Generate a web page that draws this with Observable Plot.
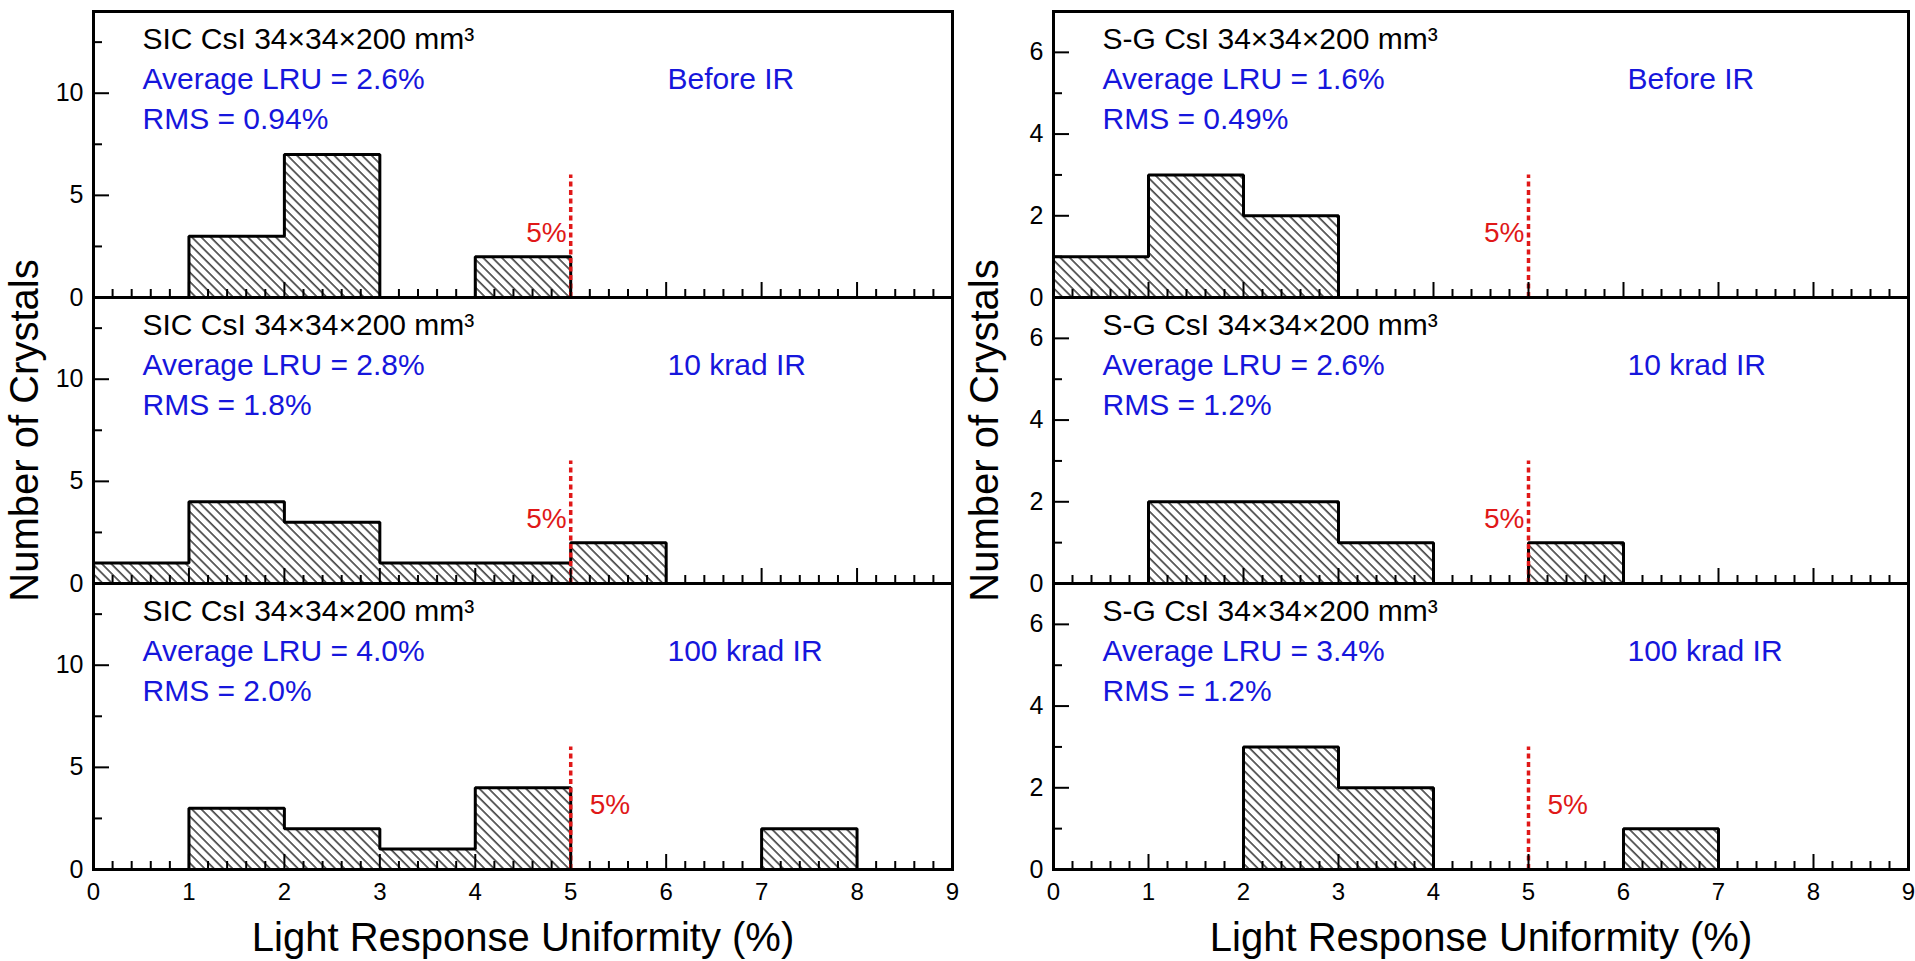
<!DOCTYPE html>
<html>
<head>
<meta charset="utf-8">
<script src="https://cdn.jsdelivr.net/npm/d3@7"></script>
<script src="https://cdn.jsdelivr.net/npm/@observablehq/plot@0.6"></script>
<style>
  body { margin: 0; background: #fff; }
  #chart { position: relative; width: 1915px; height: 961px; overflow: hidden; background: #fff; }
  #chart svg.panel { position: absolute; overflow: visible; background: transparent; }
</style>
</head>
<body>
<svg width="0" height="0" style="position:absolute">
  <defs>
    <pattern id="hatch" patternUnits="userSpaceOnUse" width="6.6" height="20" patternTransform="rotate(-45)">
      <line x1="1" y1="-2" x2="1" y2="22" stroke="#111" stroke-width="1.3"/>
    </pattern>
  </defs>
</svg>
<div id="chart"></div>
<script>
// ---------- data ----------
const binEdges = [0, 1, 2, 3, 4, 5, 6, 7, 8, 9];

const sicBeforeIR = [0, 3, 7, 0, 2, 0, 0, 0, 0];
const sic10krad   = [1, 4, 3, 1, 1, 2, 0, 0, 0];
const sic100krad  = [0, 3, 2, 1, 4, 0, 0, 2, 0];

const sgBeforeIR  = [1, 3, 2, 0, 0, 0, 0, 0, 0];
const sg10krad    = [0, 2, 2, 1, 0, 1, 0, 0, 0];
const sg100krad   = [0, 0, 3, 2, 0, 0, 1, 0, 0];

const conditions = ["Before IR", "10 krad IR", "100 krad IR"];
const sicHeader = "SIC CsI 34×34×200 mm³";
const sgHeader  = "S-G CsI 34×34×200 mm³";
const sicAvgLRU = ["2.6%", "2.8%", "4.0%"];
const sicRMS    = ["0.94%", "1.8%", "2.0%"];
const sgAvgLRU  = ["1.6%", "2.6%", "3.4%"];
const sgRMS     = ["0.49%", "1.2%", "1.2%"];

const limitValue = 5;
const limitLabel = "5%";
const sicLimitTop = 6;
const sgLimitTop = 3;

const xDomain = [0, 9];
const xMajorTicks = [0, 1, 2, 3, 4, 5, 6, 7, 8, 9];
const xMinorTicks = d3.range(0, 9.0001, 0.2).map(v => +v.toFixed(1)).filter(v => !Number.isInteger(v));

const sicYDomain = [0, 14];
const sicYMajor = [0, 5, 10];
const sicYMinor = [2.5, 7.5, 12.5];
const sgYDomain = [0, 7];
const sgYMajor = [0, 2, 4, 6];
const sgYMinor = [1, 3, 5];

const xTitle = "Light Response Uniformity (%)";
const yTitle = "Number of Crystals";

// ---------- styling ----------
const FONT = "Liberation Sans, Arial, Helvetica, sans-serif";
const BLUE = "#1616dc";
const RED = "#e01818";

const columns = [
  {left: 0,   width: 960, marginRight: 8, header: sicHeader, avg: sicAvgLRU, rms: sicRMS,
   series: [sicBeforeIR, sic10krad, sic100krad], yDomain: sicYDomain, yMajor: sicYMajor, yMinor: sicYMinor,
   limitTop: sicLimitTop, labelSide: ["left", "left", "right"]},
  {left: 960, width: 955, marginRight: 7, header: sgHeader, avg: sgAvgLRU, rms: sgRMS,
   series: [sgBeforeIR, sg10krad, sg100krad], yDomain: sgYDomain, yMajor: sgYMajor, yMinor: sgYMinor,
   limitTop: sgLimitTop, labelSide: ["left", "left", "right"]}
];
const rowTops = [11, 297, 583];
const panelH = 286;

function outlineOf(bins) {
  const pts = [];
  let run = -1, open = false;
  bins.forEach((b, i) => {
    if (b.count > 0) {
      if (!open) { run++; pts.push({x: b.lo, y: 0, run}); open = true; }
      pts.push({x: b.lo, y: b.count, run}, {x: b.hi, y: b.count, run});
    } else if (open) {
      pts.push({x: bins[i - 1].hi, y: 0, run});
      open = false;
    }
  });
  if (open) pts.push({x: bins[bins.length - 1].hi, y: 0, run});
  return pts;
}

const chart = document.getElementById("chart");

columns.forEach((col, c) => {
  col.series.forEach((counts, r) => {
    const bins = counts.map((n, i) => ({lo: binEdges[i], hi: binEdges[i + 1], count: n}));
    const bottom = r === 2;
    const mb = bottom ? 92 : 11;
    const side = col.labelSide[r];
    const marks = [
      Plot.rectY(bins.filter(b => b.count > 0), {x1: "lo", x2: "hi", y: "count", fill: "url(#hatch)"}),
      Plot.line(outlineOf(bins), {x: "x", y: "y", z: "run", stroke: "#000", strokeWidth: 3, strokeLinejoin: "miter"}),
      Plot.ruleX([limitValue], {x: d => d, y1: 0, y2: col.limitTop, stroke: RED, strokeWidth: 3.5, strokeDasharray: "5,3.5"}),
      Plot.text([limitLabel], {x: limitValue, y: 0, text: d => d, fill: RED, fontSize: 28, fontFamily: FONT,
        textAnchor: side === "left" ? "end" : "start", dx: side === "left" ? -4 : 19, dy: -56, lineAnchor: "bottom"}),
      Plot.axisY({ticks: col.yMajor, tickSize: 16, dx: 16, strokeWidth: 2, fill: "none", label: null}),
      Plot.axisY({ticks: col.yMinor, tickSize: 9, dx: 9, strokeWidth: 2, fill: "none", label: null}),
      Plot.axisY({ticks: col.yMajor, tickSize: 0, tickPadding: 10, fontSize: 25, fontFamily: FONT, fill: "#000",
        label: null, tickFormat: d => String(d)}),
      Plot.axisX({ticks: xMajorTicks, tickSize: 15, dy: -15, strokeWidth: 2, fill: "none", label: null}),
      Plot.axisX({ticks: xMinorTicks, tickSize: 8, dy: -8, strokeWidth: 2, fill: "none", label: null}),
      Plot.frame({stroke: "#000", strokeWidth: 3}),
      Plot.text([col.header], {text: d => d, frameAnchor: "top-left", dx: 49, dy: 37, lineAnchor: "bottom",
        textAnchor: "start", fontSize: 30, fontFamily: FONT, fill: "#000"}),
      Plot.text(["Average LRU = " + col.avg[r]], {text: d => d, frameAnchor: "top-left", dx: 49, dy: 77, lineAnchor: "bottom",
        textAnchor: "start", fontSize: 30, fontFamily: FONT, fill: BLUE}),
      Plot.text(["RMS = " + col.rms[r]], {text: d => d, frameAnchor: "top-left", dx: 49, dy: 117, lineAnchor: "bottom",
        textAnchor: "start", fontSize: 30, fontFamily: FONT, fill: BLUE}),
      Plot.text([conditions[r]], {text: d => d, frameAnchor: "top-left", dx: 574, dy: 77, lineAnchor: "bottom",
        textAnchor: "start", fontSize: 30, fontFamily: FONT, fill: BLUE})
    ];
    if (bottom) {
      marks.push(
        Plot.axisX({ticks: xMajorTicks, tickSize: 0, tickPadding: 13, fontSize: 24, fontFamily: FONT, fill: "#000",
          label: null, tickFormat: d => String(d)}),
        Plot.text([xTitle], {text: d => d, frameAnchor: "bottom", dy: 81, lineAnchor: "bottom", fontSize: 40, fontFamily: FONT, fill: "#000"})
      );
    }
    if (r === 1) {
      marks.push(
        Plot.text([yTitle], {text: d => d, frameAnchor: "left", rotate: -90, dx: -56, dy: -10, lineAnchor: "bottom",
          textAnchor: "middle", fontSize: 40, fontFamily: FONT, fill: "#000"})
      );
    }
    const svg = Plot.plot({
      width: col.width,
      height: 11 + panelH + mb,
      marginLeft: 93,
      marginRight: col.marginRight,
      marginTop: 11,
      marginBottom: mb,
      x: {domain: xDomain},
      y: {domain: col.yDomain},
      marks
    });
    svg.classList.add("panel");
    svg.style.left = col.left + "px";
    svg.style.top = (rowTops[r] - 11) + "px";
    svg.style.background = "transparent";
    svg.style.overflow = "visible";
    chart.appendChild(svg);
  });
});
</script>
</body>
</html>
